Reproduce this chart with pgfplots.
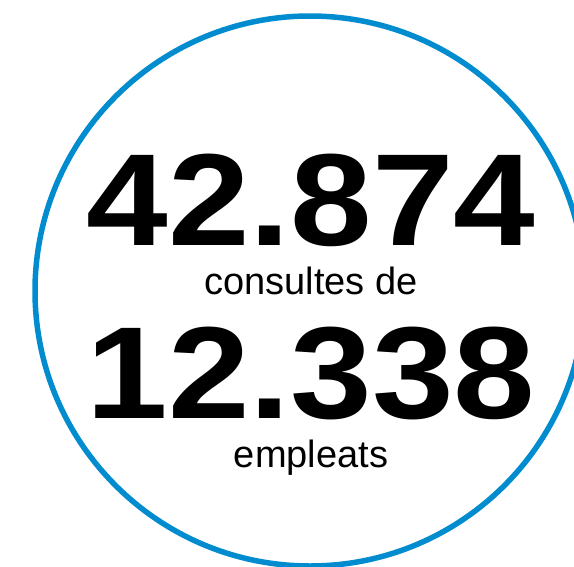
\documentclass[border=0pt]{standalone}
\usepackage{fontspec}
\setmainfont{Liberation Sans}
\usepackage{pgfplots}
\pgfplotsset{compat=1.18}
\definecolor{ringblue}{RGB}{0,140,206}
\begin{document}
\begin{tikzpicture}
\begin{axis}[
    width=574pt, height=566pt, scale only axis,
    xmin=0, xmax=574, ymin=0, ymax=566,
    y dir=reverse,
    hide axis,
    clip=true
]
% outer ring
\draw[ringblue, line width=5.5pt] (axis cs:310,291) circle[radius=275];
% figures
\node[anchor=base, inner sep=0pt] at (axis cs:311,245)
    {\scalebox{1.12}[1]{\fontsize{131}{131}\selectfont\bfseries 42.874}};
\node[anchor=base, inner sep=0pt] at (axis cs:311,294)
    {\fontsize{38}{38}\selectfont consultes de};
\node[anchor=base, inner sep=0pt] at (axis cs:311,418)
    {\scalebox{1.12}[1]{\fontsize{131}{131}\selectfont\bfseries 12.338}};
\node[anchor=base, inner sep=0pt] at (axis cs:311,467)
    {\fontsize{38}{38}\selectfont empleats};
\end{axis}
\pgfresetboundingbox
\path (current axis.south west) rectangle (current axis.north east);
\end{tikzpicture}
\end{document}
